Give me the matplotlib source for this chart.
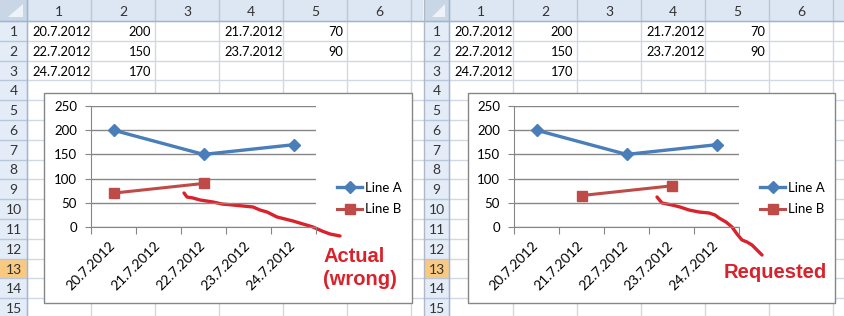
import numpy as np
import matplotlib.pyplot as plt
from matplotlib.patches import Rectangle, Polygon
from matplotlib.transforms import ScaledTranslation

plt.rcParams['font.family'] = ['Lato', 'DejaVu Sans']

# spreadsheet contents
col1_dates = ['20.7.2012', '22.7.2012', '24.7.2012']
col2_vals = [200, 150, 170]
col4_dates = ['21.7.2012', '23.7.2012']
col5_vals = [70, 90]

# chart data
categories = ['20.7.2012', '21.7.2012', '22.7.2012', '23.7.2012', '24.7.2012']
line_a_pos = [0, 2, 4]
line_a = [200, 150, 170]
actual_b_pos = [0, 2]
actual_b = [70, 90]
requested_b_pos = [1, 3]
requested_b = [65, 85]
yticks = [0, 50, 100, 150, 200, 250]

# hand drawn red strokes (screen pixels)
stroke_left_x = [184, 187, 193, 200, 213, 222, 233, 243, 253, 260, 267, 277, 285, 293, 303,
                 313, 322, 330, 340]
stroke_left_y = [193, 197, 198, 200, 202, 204, 205, 206, 207, 210, 212, 217, 219, 221, 224,
                 227, 231, 234, 236]
stroke_right_x = [657, 662, 667, 672, 680, 689, 699, 709, 715, 719, 726, 732, 737, 742, 747,
                  752, 757, 762]
stroke_right_y = [197, 203, 204, 205, 207, 210, 212, 213, 215, 218, 222, 227, 234, 240, 242,
                  245, 250, 255]

W, H = 844, 316
BLUE = '#4a7ebb'
RED = '#be4b48'
MARK = '#d9222b'
GRID = '#d0d7e5'

fig = plt.figure(figsize=(W / 100, H / 100), dpi=100)
bg = fig.add_axes([0, 0, 1, 1])
bg.set_xlim(0, W)
bg.set_ylim(H, 0)
bg.axis('off')

HEAD = 21
ROWH = 19.8
COLW = 64


def row_top(r):
    return HEAD + (r - 1) * ROWH


def draw_sheet(x0, rh_w, x_end):
    c0 = x0 + rh_w
    # header strips
    bg.add_patch(Rectangle((x0, 0), x_end - x0, HEAD, fc='#dde7f3', ec='none'))
    bg.add_patch(Rectangle((x0, HEAD), rh_w, H - HEAD, fc='#e4ecf7', ec='none'))
    bg.add_patch(Rectangle((x0, row_top(13)), rh_w, ROWH, fc='#f9c981', ec='none'))
    # corner cell
    bg.add_patch(Rectangle((x0, 0), rh_w, HEAD, fc='#c9d6e6', ec='none'))
    bg.add_patch(Polygon([(x0 + rh_w - 4, 4), (x0 + rh_w - 4, HEAD - 4),
                          (x0 + 8, HEAD - 4)], fc='#eef3f9', ec='none'))
    # grid
    for i in range(8):
        x = c0 + i * COLW
        if x > x_end:
            break
        bg.plot([x, x], [0, HEAD], color='#b8c8da', lw=1)
        bg.plot([x, x], [HEAD, H], color=GRID, lw=1)
        if i < 6:
            bg.text(x + COLW / 2, HEAD / 2 + 1, str(i + 1), ha='center', va='center',
                    fontsize=10, color='#333333')
    for r in range(1, 17):
        y = row_top(r)
        bg.plot([x0, c0], [y, y], color='#b8c8da', lw=1)
        bg.plot([c0, x_end], [y, y], color=GRID, lw=1)
        if r <= 15:
            bg.text(x0 + rh_w / 2, y + ROWH / 2 + 1, str(r), ha='center', va='center',
                    fontsize=10, color='#333333')
    bg.plot([x0, x_end], [HEAD, HEAD], color='#9eb6ce', lw=1)
    bg.plot([c0, c0], [0, H], color='#9eb6ce', lw=1)
    # cells
    for i, d in enumerate(col1_dates):
        bg.text(c0 + 5, row_top(i + 1) + ROWH / 2 + 1, d, va='center', fontsize=9.3)
    for i, v in enumerate(col2_vals):
        bg.text(c0 + 2 * COLW - 4, row_top(i + 1) + ROWH / 2 + 1, str(v), va='center',
                ha='right', fontsize=9.3)
    for i, d in enumerate(col4_dates):
        bg.text(c0 + 3 * COLW + 5, row_top(i + 1) + ROWH / 2 + 1, d, va='center', fontsize=9.3)
    for i, v in enumerate(col5_vals):
        bg.text(c0 + 5 * COLW - 4, row_top(i + 1) + ROWH / 2 + 1, str(v), va='center',
                ha='right', fontsize=9.3)


def draw_chart(box, plot_x0, b_pos, b_vals, leg_x):
    bx0, by0, bx1, by1 = box
    bg.add_patch(Rectangle((bx0, by0), bx1 - bx0, by1 - by0, fc='white', ec='#868686',
                           lw=1, zorder=3))
    px1 = plot_x0 + 225
    py0, py1 = 106, 227
    ax = fig.add_axes([plot_x0 / W, 1 - py1 / H, (px1 - plot_x0) / W, (py1 - py0) / H])
    ax.set_facecolor('none')
    ax.set_xlim(-0.5, 4.5)
    ax.set_ylim(0, 250)
    for s in ['top', 'right']:
        ax.spines[s].set_visible(False)
    for s in ['left', 'bottom']:
        ax.spines[s].set_color('#868686')
    ax.set_yticks(yticks)
    ax.set_yticklabels([str(t) for t in yticks], fontsize=9.5)
    ax.yaxis.grid(True, color='#868686', lw=1)
    ax.set_axisbelow(True)
    ax.set_xticks(np.arange(-0.5, 5, 1))
    ax.set_xticklabels([])
    ax.set_xticks(range(len(categories)), minor=True)
    ax.set_xticklabels(categories, minor=True, rotation=45, ha='right', va='center',
                       rotation_mode='anchor', fontsize=10)
    shift = ScaledTranslation(0.06, -0.03, fig.dpi_scale_trans)
    for lbl in ax.get_xticklabels(minor=True):
        lbl.set_transform(lbl.get_transform() + shift)
    ax.tick_params(axis='x', which='major', length=5, color='#868686')
    ax.tick_params(axis='x', which='minor', length=0, pad=12)
    ax.tick_params(axis='y', length=4, color='#868686', pad=6)
    ax.plot(line_a_pos, line_a, color=BLUE, lw=2.4, marker='D', ms=6, label='Line A',
            clip_on=False)
    ax.plot(b_pos, b_vals, color=RED, lw=2.2, marker='s', ms=7.5, label='Line B',
            clip_on=False)
    ax.legend(loc='center left', bbox_to_anchor=(leg_x, 198.5), bbox_transform=bg.transData,
              frameon=False, fontsize=9.5, handlelength=1.9, handletextpad=0.25,
              labelspacing=0.75, borderpad=0, borderaxespad=0, numpoints=1)
    return ax


draw_sheet(0, 27, 423)
draw_sheet(424, 25, W)
bg.plot([423.5, 423.5], [0, H], color='#b0b8c4', lw=1)

draw_chart((44, 93, 412, 303), 91, actual_b_pos, actual_b, 337)
draw_chart((468, 93, 835, 303), 514, requested_b_pos, requested_b, 760)

bg.plot(stroke_left_x, stroke_left_y, color=MARK, lw=2.4, zorder=5, solid_capstyle='round',
        solid_joinstyle='round')
bg.plot(stroke_right_x, stroke_right_y, color=MARK, lw=2.4, zorder=5, solid_capstyle='round',
        solid_joinstyle='round')
bg.text(323, 268, 'Actual\n(wrong)', color=MARK, fontsize=14.5, fontweight='bold',
        family='Liberation Sans', va='center', ha='left', linespacing=1.25, zorder=5)
bg.text(724, 273, 'Requested', color=MARK, fontsize=14.5, fontweight='bold',
        family='Liberation Sans', va='center', ha='left', zorder=5)

fig.savefig('out.png', dpi=100)
